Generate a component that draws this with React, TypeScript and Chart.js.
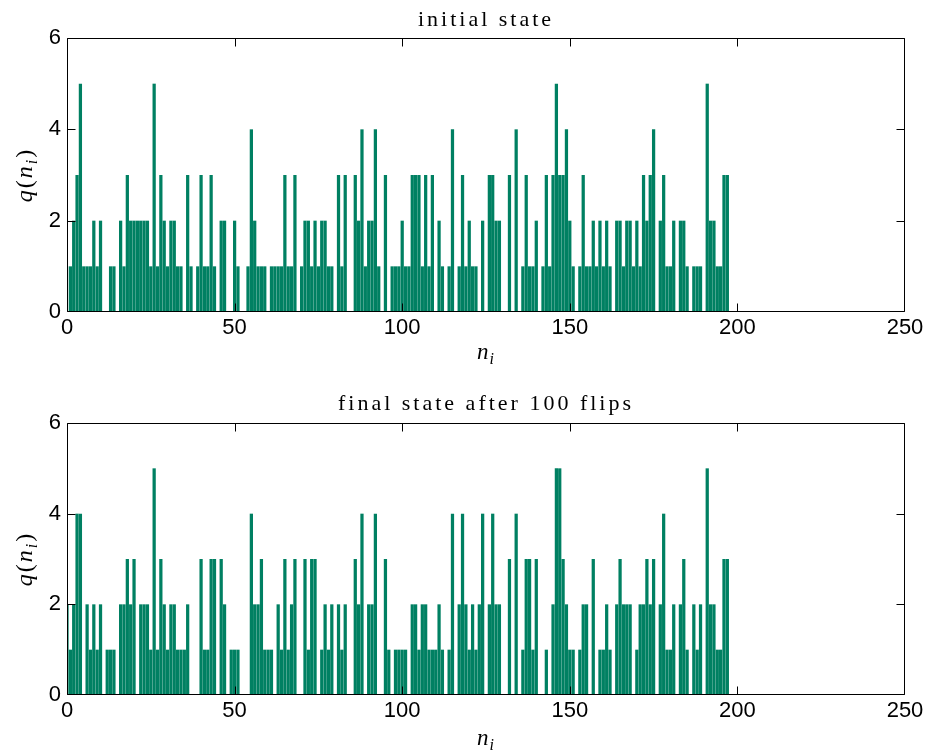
import React, { useEffect, useRef } from 'react';
import { Chart, registerables } from 'chart.js';

Chart.register(...registerables);

// q(n_i) values for n_i = 0..197
const INITIAL_Q = [
  0, 1, 2, 3, 5, 1, 1, 1, 2, 1,
  2, 0, 0, 1, 1, 0, 2, 1, 3, 2,
  2, 2, 2, 2, 2, 1, 5, 1, 3, 2,
  1, 2, 2, 1, 1, 0, 3, 1, 0, 1,
  3, 1, 1, 3, 1, 0, 2, 2, 0, 0,
  2, 1, 0, 0, 1, 4, 2, 1, 1, 1,
  0, 1, 1, 1, 1, 3, 1, 1, 3, 0,
  1, 2, 2, 1, 2, 1, 2, 2, 1, 1,
  0, 3, 1, 3, 0, 0, 3, 2, 4, 1,
  2, 2, 4, 1, 0, 3, 0, 1, 1, 1,
  2, 1, 1, 3, 3, 3, 1, 3, 1, 3,
  0, 2, 1, 0, 1, 4, 0, 1, 3, 1,
  2, 1, 1, 0, 2, 0, 3, 3, 2, 2,
  0, 0, 3, 0, 4, 0, 1, 3, 1, 1,
  2, 0, 1, 3, 1, 3, 5, 3, 3, 4,
  2, 1, 0, 1, 3, 1, 1, 2, 1, 2,
  1, 2, 1, 0, 2, 2, 1, 2, 2, 1,
  2, 1, 3, 2, 3, 4, 0, 2, 3, 1,
  1, 2, 0, 2, 2, 1, 0, 1, 1, 1,
  0, 5, 2, 2, 1, 1, 3, 3,
];

const FINAL_Q = [
  2, 1, 2, 4, 4, 0, 2, 1, 2, 1,
  2, 0, 1, 1, 1, 0, 2, 2, 3, 2,
  3, 0, 2, 2, 2, 1, 5, 1, 3, 2,
  1, 2, 2, 1, 1, 1, 2, 0, 0, 0,
  3, 1, 1, 3, 3, 0, 3, 2, 0, 1,
  1, 1, 0, 0, 0, 4, 2, 2, 3, 1,
  1, 1, 0, 2, 1, 3, 1, 2, 3, 0,
  0, 3, 1, 3, 3, 0, 1, 2, 1, 2,
  0, 2, 1, 2, 0, 0, 3, 2, 4, 0,
  2, 2, 4, 0, 0, 3, 1, 0, 1, 1,
  1, 1, 0, 2, 2, 1, 2, 2, 1, 1,
  1, 2, 1, 0, 1, 4, 0, 2, 4, 2,
  1, 2, 1, 2, 4, 0, 2, 4, 2, 2,
  0, 0, 3, 0, 4, 0, 1, 3, 3, 1,
  3, 0, 0, 1, 0, 2, 5, 5, 3, 2,
  1, 1, 0, 1, 2, 2, 0, 3, 0, 1,
  1, 2, 1, 0, 2, 3, 2, 2, 2, 0,
  1, 2, 2, 3, 2, 3, 0, 2, 4, 1,
  1, 2, 0, 2, 3, 1, 0, 2, 1, 2,
  0, 5, 2, 2, 1, 1, 3, 3,
];

const X_TICKS = [0, 50, 100, 150, 200, 250];
const Y_TICKS = [0, 2, 4, 6];
const TITLE_TOP = 'initial state';
const TITLE_BOTTOM = 'final state after 100 flips';

const BAR_COLOR = 'rgb(0,128,98)';
const TICK_FONT = '"Liberation Sans", Arial, sans-serif';
const SERIF = '"Liberation Serif", "DejaVu Serif", serif';

type Part = { t: string; italic?: boolean; size: number; dy: number };

function drawParts(ctx: CanvasRenderingContext2D, parts: Part[], cx: number, baseY: number, spacing: string) {
  (ctx as any).letterSpacing = spacing;
  let total = 0;
  const widths = parts.map((p) => {
    ctx.font = `${p.italic ? 'italic ' : ''}${p.size}px ${SERIF}`;
    const w = ctx.measureText(p.t).width;
    total += w;
    return w;
  });
  let x = cx - total / 2;
  ctx.textAlign = 'left';
  ctx.textBaseline = 'alphabetic';
  parts.forEach((p, i) => {
    ctx.font = `${p.italic ? 'italic ' : ''}${p.size}px ${SERIF}`;
    ctx.fillText(p.t, x, baseY + p.dy);
    x += widths[i];
  });
}

const X_LABEL: Part[] = [
  { t: 'n', italic: true, size: 23, dy: 0 },
  { t: 'i', italic: true, size: 16, dy: 5 },
];
const Y_LABEL: Part[] = [
  { t: 'q', italic: true, size: 24, dy: 0 },
  { t: '(', size: 24, dy: 0 },
  { t: 'n', italic: true, size: 24, dy: 0 },
  { t: 'i', italic: true, size: 16, dy: 5 },
  { t: ')', size: 24, dy: 0 },
];

type PanelProps = {
  values: number[];
  title: string;
  height: number;
  padTop: number;
  axisH: number;
  titleY: number;
  xLabelY: number;
};

function Panel({ values, title, height, padTop, axisH, titleY, xLabelY }: PanelProps) {
  const ref = useRef<HTMLCanvasElement>(null);
  useEffect(() => {
    if (!ref.current) return;
    const points = values.map((v, i) => ({ x: i, y: v }));
    const frame = {
      id: 'frame',
      afterDraw(chart: any) {
        const { ctx, chartArea } = chart;
        const { left, right, top, bottom } = chartArea;
        const xs = chart.scales.x;
        const ys = chart.scales.y;
        ctx.save();
        ctx.strokeStyle = '#000';
        ctx.lineWidth = 1;
        const L = Math.round(left) + 0.5;
        const R = Math.round(right) - 0.5;
        const T = Math.round(top) + 0.5;
        const B = Math.round(bottom) - 0.5;
        ctx.beginPath();
        ctx.rect(L, T, R - L, B - T);
        X_TICKS.forEach((v) => {
          const px = Math.min(R, Math.max(L, Math.round(xs.getPixelForValue(v)) + 0.5));
          ctx.moveTo(px, B);
          ctx.lineTo(px, B - 8);
          ctx.moveTo(px, T);
          ctx.lineTo(px, T + 8);
        });
        Y_TICKS.forEach((v) => {
          const py = Math.min(B, Math.max(T, Math.round(ys.getPixelForValue(v)) + 0.5));
          ctx.moveTo(L, py);
          ctx.lineTo(L + 8, py);
          ctx.moveTo(R, py);
          ctx.lineTo(R - 8, py);
        });
        ctx.stroke();

        ctx.fillStyle = '#000';
        const cx = (left + right) / 2;
        // title
        (ctx as any).letterSpacing = '3px';
        ctx.font = `22px ${SERIF}`;
        ctx.textAlign = 'center';
        ctx.textBaseline = 'middle';
        ctx.fillText(title, cx, titleY);
        // x label
        drawParts(ctx, X_LABEL, cx, xLabelY, '1px');
        // y label
        ctx.save();
        ctx.translate(32, (top + bottom) / 2);
        ctx.rotate(-Math.PI / 2);
        drawParts(ctx, Y_LABEL, 0, 0, '2px');
        ctx.restore();
        (ctx as any).letterSpacing = '0px';
        ctx.restore();
      },
    };
    const chart = new Chart(ref.current, {
      type: 'bar',
      data: {
        datasets: [
          {
            data: points as any,
            backgroundColor: BAR_COLOR,
            borderWidth: 0,
            barPercentage: 1,
            categoryPercentage: 0.97,
          },
        ],
      },
      options: {
        animation: false,
        responsive: false,
        devicePixelRatio: 1,
        layout: { padding: { left: 0, right: 23, top: padTop, bottom: 0 } },
        plugins: {
          legend: { display: false },
          tooltip: { enabled: false },
          title: { display: false },
        },
        scales: {
          x: {
            type: 'linear',
            min: 0,
            max: 250,
            offset: false,
            grid: { display: false, drawTicks: false, offset: false },
            border: { display: false },
            afterBuildTicks: (s: any) => {
              s.ticks = X_TICKS.map((v) => ({ value: v }));
            },
            afterFit: (s: any) => {
              s.height = axisH;
            },
            ticks: {
              font: { family: TICK_FONT, size: 22 },
              color: '#000',
              padding: 3,
              maxRotation: 0,
              autoSkip: false,
            },
          },
          y: {
            type: 'linear',
            min: 0,
            max: 6,
            grid: { display: false, drawTicks: false },
            border: { display: false },
            afterBuildTicks: (s: any) => {
              s.ticks = Y_TICKS.map((v) => ({ value: v }));
            },
            afterFit: (s: any) => {
              s.width = 67;
            },
            ticks: {
              font: { family: TICK_FONT, size: 22 },
              color: '#000',
              padding: 6,
            },
          },
        },
      } as any,
      plugins: [frame],
    });
    return () => chart.destroy();
  }, []);
  return <canvas ref={ref} width={928} height={height} style={{ display: 'block', width: 928, height }} />;
}

export default function App() {
  return (
    <div style={{ position: 'absolute', left: 0, top: 0, width: 928, height: 753, background: '#fff' }}>
      <Panel values={INITIAL_Q} title={TITLE_TOP} height={376} padTop={38} axisH={64} titleY={20} xLabelY={359} />
      <Panel values={FINAL_Q} title={TITLE_BOTTOM} height={377} padTop={47} axisH={58} titleY={28} xLabelY={369} />
    </div>
  );
}
